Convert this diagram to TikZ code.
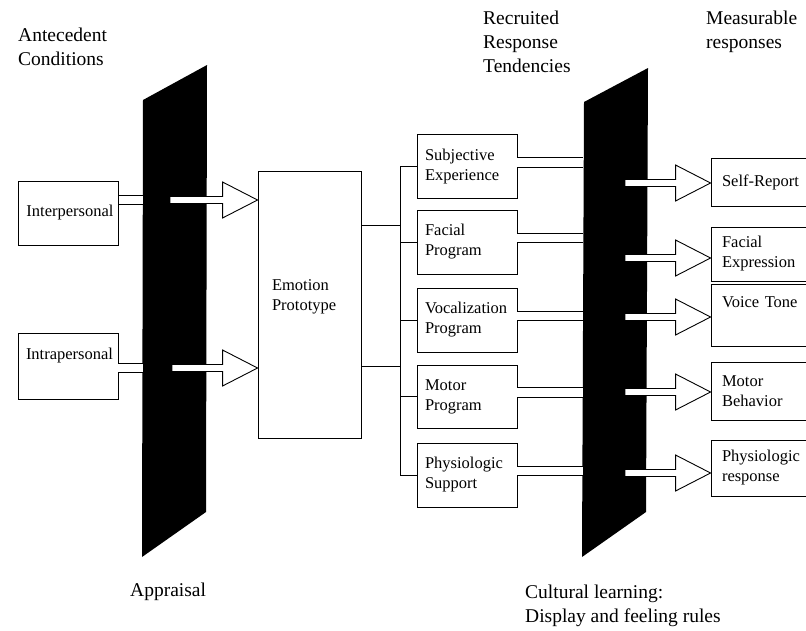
\documentclass[tikz,border=0pt]{standalone}
\usepackage{fontspec}
\setmainfont{Liberation Serif}
\usetikzlibrary{calc}
\tikzset{
  box/.style={draw,line width=.9pt,minimum width=100pt,minimum height=64pt,text width=84pt,align=left,inner sep=0pt,font=\fontsize{16.5}{20}\selectfont},
  outbox/.style={box,minimum width=104pt,text width=82pt},
  head/.style={anchor=north west,align=left,inner sep=0pt,font=\fontsize{19.5}{24}\selectfont},
  link/.style={line width=.9pt},
  twin/.style={double,double distance=8.5pt,line width=.9pt},
}
\newcommand\fatarrow[2]{\draw[line width=.9pt,fill=white] let \p1=(#1),\p2=(#2) in
  (\x1,\y1+3.5pt)--(\x2-35pt,\y1+3.5pt)--(\x2-35pt,\y1+18pt)--(\x2,\y1)--(\x2-35pt,\y1-18pt)--(\x2-35pt,\y1-3.5pt)--(\x1,\y1-3.5pt)--cycle;}
\begin{document}
\begin{tikzpicture}[x=1pt,y=-1pt]
\useasboundingbox (0,0) rectangle (806,630);
% the two screens
\fill (143,100)--(207,65)--(206,512)--(142,557)--cycle;
\fill (584,102)--(648,68)--(646,512)--(582,557)--cycle;
\coordinate (lp) at (143,0);
\coordinate (rp) at (583,0);
\coordinate (bus) at (400,0);
% headings
\node[head] (ante) at (18,28) {Antecedent\\Conditions};
\node[head] (recr) at (483,11) {Recruited\\Response\\Tendencies};
\node[head] (meas) at (706,11) {Measurable\\responses};
\node[head] (appr) at (130,583) {Appraisal};
\node[head] (cult) at (525,585) {Cultural learning:\\Display and feeling rules};
% antecedents and prototype
\node[box] (inter) at (68.5,213) {Interpersonal};
\node[box,minimum height=66pt,text depth=25pt] (intra) at (68,366) {Intrapersonal};
\node[box,minimum width=103pt,minimum height=267pt,text width=75pt,text depth=39pt] (emo) at (309.5,304.5) {Emotion\\Prototype};
% response tendencies
\node[box] (subj) at (467,166.5) {Subjective\\Experience};
\node[box] (faci) at (467,242) {Facial\\Program};
\node[box] (voca) at (467,320) {Vocalization\\Program};
\node[box,minimum height=63pt] (moto) at (467,396.5) {Motor\\Program};
\node[box] (phys) at (467,475) {Physiologic\\Support};
% measurable responses
\node[outbox,minimum height=48pt] (self) at (763,182) {Self-Report};
\node[outbox,minimum height=54pt] (face) at (763,254) {Facial\\Expression};
\node[outbox,minimum height=62pt,text depth=26pt] (voic) at (763,315) {Voice Tone};
\node[outbox,minimum height=58pt] (beha) at (763,391) {Motor\\Behavior};
\node[outbox,minimum height=56pt] (phre) at (763,468) {Physiologic\\response};
% appraisal
\coordinate (a1) at (170,200);
\coordinate (a2) at (172,368);
\draw[twin] (inter.east |- a1) -- (lp |- a1);
\draw[twin] (intra.east |- a2) -- (lp |- a2);
\fatarrow{a1}{emo.west}
\fatarrow{a2}{emo.west}
% prototype to tendencies
\draw[link] ([yshift=79.5pt]emo.east) -- +(39,0);
\draw[link] ([yshift=-61.5pt]emo.east) -- +(39,0);
\draw[link] (subj.west) -- (subj.west -| bus) -- (phys.west -| bus) -- (phys.west);
\foreach \n in {faci,voca,moto} \draw[link] (\n.west) -- (\n.west -| bus);
% through the display rules
\foreach \n in {subj,faci,voca,moto,phys} \draw[twin] ([yshift=4pt]\n.east) -- +(66,0);
\foreach \yo/\t in {183/self,258/face,317/voic,392/beha,473/phre}{
  \coordinate (s) at (625,\yo);
  \fatarrow{s}{\t.west}
}
\end{tikzpicture}
\end{document}
